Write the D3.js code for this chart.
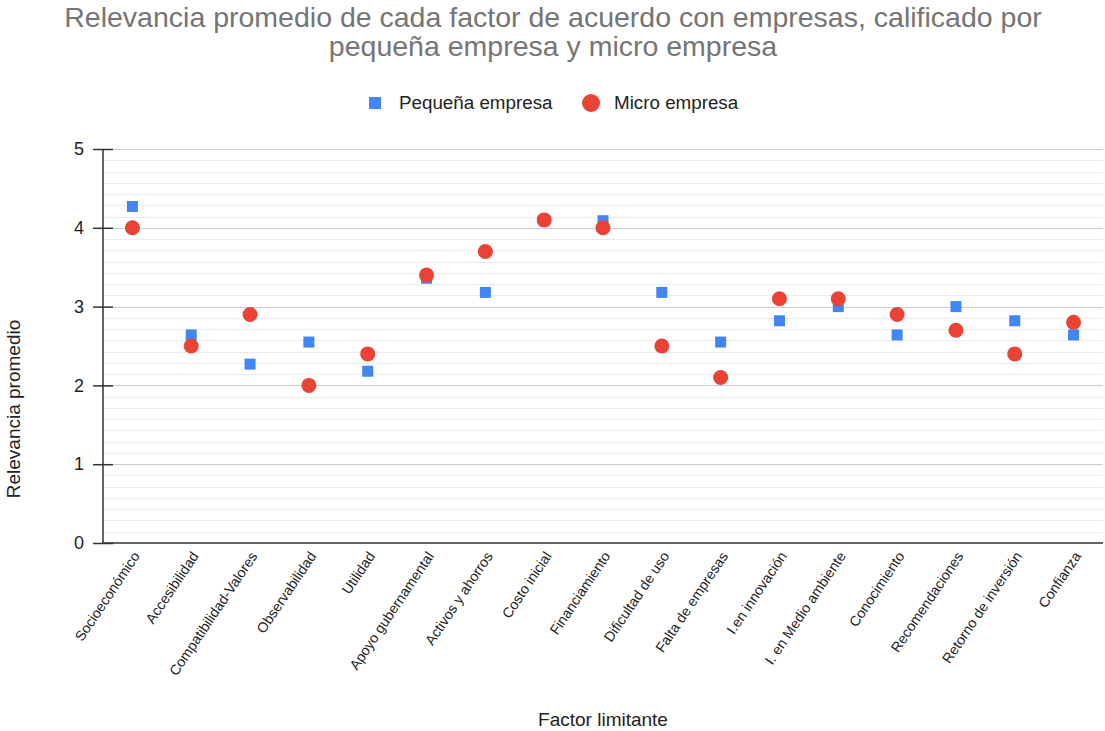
<!DOCTYPE html>
<html>
<head>
<meta charset="utf-8">
<script src="https://cdn.jsdelivr.net/npm/d3@7"></script>
<style>
  body { margin: 0; background: #fff; }
  text { font-family: "Liberation Sans", Arial, sans-serif; }
</style>
</head>
<body>
<svg width="1105" height="731"></svg>
<script>
const factores = ["Socioeconómico", "Accesibilidad", "Compatibilidad-Valores", "Observabilidad",
  "Utilidad", "Apoyo gubernamental", "Activos y ahorros", "Costo inicial", "Financiamiento",
  "Dificultad de uso", "Falta de empresas", "I.en innovación", "I. en Medio ambiente",
  "Conocimiento", "Recomendaciones", "Retorno de inversión", "Confianza"];

const pequena = [4.27, 2.64, 2.27, 2.55, 2.18, 3.36, 3.18, 4.09, 4.09, 3.18, 2.55, 2.82, 3.0, 2.64, 3.0, 2.82, 2.64];
const micro = [4.0, 2.5, 2.9, 2.0, 2.4, 3.4, 3.7, 4.1, 4.0, 2.5, 2.1, 3.1, 3.1, 2.9, 2.7, 2.4, 2.8];

const yTicks = [0, 1, 2, 3, 4, 5];

const svg = d3.select("svg");
const margin = { left: 103, right: 2, top: 149, bottom: 188 };
const width = 1105, height = 731;

const x = d3.scaleBand()
  .domain(factores)
  .range([margin.left, width - margin.right]);

const y = d3.scaleLinear()
  .domain([0, 5])
  .range([height - margin.bottom, margin.top]);

// minor grid (7 per unit)
const minor = d3.range(0, 35).map(i => i / 7).filter(v => v % 1 !== 0);
svg.append("g")
  .selectAll("line")
  .data(minor)
  .join("line")
  .attr("x1", margin.left)
  .attr("x2", width - margin.right)
  .attr("y1", d => Math.round(y(d)) + 0.5)
  .attr("y2", d => Math.round(y(d)) + 0.5)
  .attr("stroke", "#ebebeb");

// major grid
svg.append("g")
  .selectAll("line")
  .data(yTicks.filter(d => d > 0))
  .join("line")
  .attr("x1", margin.left)
  .attr("x2", width - margin.right)
  .attr("y1", d => Math.round(y(d)) + 0.5)
  .attr("y2", d => Math.round(y(d)) + 0.5)
  .attr("stroke", "#cccccc");

// y axis
const yAxis = svg.append("g")
  .attr("transform", `translate(${margin.left},0)`)
  .call(d3.axisLeft(y).tickValues(yTicks).tickSize(10).tickPadding(9).tickFormat(d3.format("d")));
yAxis.select(".domain").remove();
yAxis.selectAll(".tick line")
  .attr("x1", -10).attr("x2", 10)
  .attr("stroke", "#333").attr("stroke-width", 1.5);
yAxis.selectAll(".tick text")
  .attr("font-size", 18).attr("fill", "#222")
  .attr("font-family", "Liberation Sans, Arial, sans-serif");

svg.append("line")
  .attr("x1", margin.left).attr("x2", margin.left)
  .attr("y1", y(5)).attr("y2", y(0))
  .attr("stroke", "#333").attr("stroke-width", 1.5);

// x axis baseline
svg.append("line")
  .attr("x1", margin.left).attr("x2", width - margin.right)
  .attr("y1", y(0)).attr("y2", y(0))
  .attr("stroke", "#333").attr("stroke-width", 1.5);

// x labels
svg.append("g")
  .selectAll("text")
  .data(factores)
  .join("text")
  .attr("transform", d => `translate(${x(d) + x.bandwidth() / 2 + 8},${y(0) + 13}) rotate(-56)`)
  .attr("text-anchor", "end")
  .attr("font-size", 14.2)
  .attr("fill", "#222")
  .text(d => d);

// series
svg.append("g")
  .selectAll("rect")
  .data(pequena)
  .join("rect")
  .attr("x", (d, i) => x(factores[i]) + x.bandwidth() / 2 - 5.5)
  .attr("y", d => y(d) - 5.5)
  .attr("width", 11)
  .attr("height", 11)
  .attr("fill", "#4285f4");

svg.append("g")
  .selectAll("circle")
  .data(micro)
  .join("circle")
  .attr("cx", (d, i) => x(factores[i]) + x.bandwidth() / 2)
  .attr("cy", d => y(d))
  .attr("r", 7.5)
  .attr("fill", "#ea4335");

// title
const title = svg.append("text")
  .attr("x", 553)
  .attr("y", 27)
  .attr("text-anchor", "middle")
  .attr("font-size", 28.5)
  .attr("fill", "#757575");
title.append("tspan").attr("x", 553).text("Relevancia promedio de cada factor de acuerdo con empresas, calificado por");
title.append("tspan").attr("x", 553).attr("dy", 29).text("pequeña empresa y micro empresa");

// legend
const legend = svg.append("g");
legend.append("rect").attr("x", 369).attr("y", 97).attr("width", 12).attr("height", 12).attr("fill", "#4285f4");
legend.append("text").attr("x", 399).attr("y", 109).attr("font-size", 18.8).attr("fill", "#222").text("Pequeña empresa");
legend.append("circle").attr("cx", 591).attr("cy", 103).attr("r", 9).attr("fill", "#ea4335");
legend.append("text").attr("x", 614).attr("y", 109).attr("font-size", 18.8).attr("fill", "#222").text("Micro empresa");

// axis titles
svg.append("text")
  .attr("x", 603).attr("y", 726)
  .attr("text-anchor", "middle")
  .attr("font-size", 19).attr("fill", "#222")
  .text("Factor limitante");

svg.append("text")
  .attr("transform", "translate(20,409) rotate(-90)")
  .attr("text-anchor", "middle")
  .attr("font-size", 19).attr("fill", "#222")
  .text("Relevancia promedio");
</script>
</body>
</html>
